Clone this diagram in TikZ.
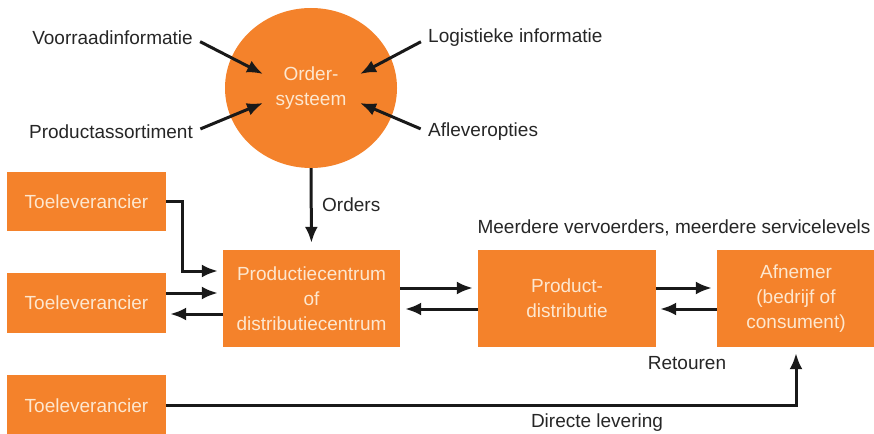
\documentclass[tikz,border=0pt]{standalone}
\usepackage{fontspec}
\setmainfont{Liberation Sans}
\usetikzlibrary{arrows.meta,shapes.geometric}
\usepackage{xcolor}
\definecolor{orderOrange}{HTML}{F4822B}
\definecolor{boxText}{HTML}{FDE7CF}
\definecolor{labelGray}{HTML}{262626}
\newcommand{\labelSize}{\fontsize{19}{25}\selectfont}
\tikzset{
  partyBox/.style={fill=orderOrange, text=boxText, align=center, inner sep=0pt, font=\labelSize},
  flowArrow/.style={-{Latex[length=16pt,width=13pt]}, line width=3pt, draw=black!90},
  flowLabel/.style={text=labelGray, font=\labelSize, inner sep=0pt},
}

\begin{document}
\begin{tikzpicture}[x=1pt, y=-1pt]
\useasboundingbox (0,0) rectangle (874,433);

% order system and its inputs
\node (order) [ellipse, partyBox, minimum width=172pt, minimum height=160pt] at (311,88) {Order-\\systeem};
\node (voorraad) [flowLabel, anchor=east] at (193,38) {Voorraadinformatie};
\node (assortiment) [flowLabel, anchor=east] at (193,132) {Productassortiment};
\node (logistiek) [flowLabel, anchor=west] at (428,38) {Logistieke informatie};
\node (aflever) [flowLabel, anchor=west] at (428,132) {Afleveropties};
\coordinate (inVoorraad) at (263,74);
\coordinate (inAssortiment) at (263,103);
\coordinate (inLogistiek) at (360,74);
\coordinate (inAflever) at (360,103);
\draw[flowArrow, shorten <=8pt] (voorraad.east) -- (inVoorraad);
\draw[flowArrow, shorten <=8pt] (assortiment.east) -- (inAssortiment);
\draw[flowArrow, shorten <=8pt] (logistiek.west) -- (inLogistiek);
\draw[flowArrow, shorten <=8pt] (aflever.west) -- (inAflever);

% boxes
\node (leverA) [partyBox, minimum width=159pt, minimum height=59pt] at (86.5,201.5) {Toeleverancier};
\node (leverB) [partyBox, minimum width=159pt, minimum height=60pt] at (86.5,303) {Toeleverancier};
\node (leverC) [partyBox, minimum width=159pt, minimum height=61pt] at (86.5,405.5) {Toeleverancier};
\node (centrum) [partyBox, minimum width=177pt, minimum height=97pt] at (311.5,298.5) {Productiecentrum\\of\\distributiecentrum};
\node (distributie) [partyBox, minimum width=178pt, minimum height=97pt] at (567,298.5) {Product-\\distributie};
\node (afnemer) [partyBox, minimum width=158pt, minimum height=97pt] at (796,298.5) {Afnemer\\(bedrijf of\\consument)};

% flows
\draw[flowArrow, shorten >=7pt] (order.south) -- (centrum.north);
\node (ordersLabel) [flowLabel, anchor=west] at (322,205) {Orders};
\draw[flowArrow, shorten >=5pt] (leverA.east) -- ++(16,0) |- ([yshift=27.5pt]centrum.west);
\draw[flowArrow, shorten >=5pt] ([yshift=10pt]leverB.east) -- ([yshift=5.5pt]centrum.west);
\draw[flowArrow, shorten >=4pt] ([yshift=-15.5pt]centrum.west) -- ([yshift=-11pt]leverB.east);
\draw[flowArrow, shorten >=5pt] ([yshift=10.5pt]centrum.east) -- ([yshift=10.5pt]distributie.west);
\draw[flowArrow, shorten >=5pt] ([yshift=-10.5pt]distributie.west) -- ([yshift=-10.5pt]centrum.east);
\draw[flowArrow, shorten >=5pt] ([yshift=10.5pt]distributie.east) -- ([yshift=10.5pt]afnemer.west);
\draw[flowArrow, shorten >=4pt] ([yshift=-10.5pt]afnemer.west) -- ([yshift=-10.5pt]distributie.east);
\draw[flowArrow, shorten >=6pt] (leverC.east) -| (afnemer.south);

% labels
\node (vervoerders) [flowLabel] at (674,228) {Meerdere vervoerders, meerdere servicelevels};
\node (retouren) [flowLabel] at (687,363) {Retouren};
\node (direct) [flowLabel] at (597,423) {Directe levering};
\end{tikzpicture}
\end{document}
